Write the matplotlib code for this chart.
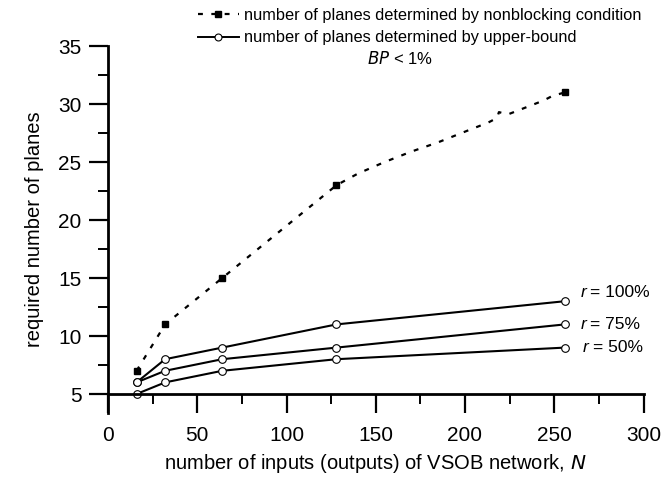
import numpy as np
import matplotlib
matplotlib.use('Agg')
import matplotlib.pyplot as plt
from matplotlib.lines import Line2D
from matplotlib.ticker import MultipleLocator

plt.rcParams['font.family'] = ['Liberation Sans', 'DejaVu Sans']

# network sizes N
N = [16, 32, 64, 128, 256]

# nonblocking condition: marked points and the dotted curve through them
nb_marks = [7, 11, 15, 23, 31]
nb_curve_N = [16, 24, 32, 48, 64, 96, 128, 140, 155, 170, 185, 203, 213, 218, 219, 224, 229, 234, 239, 244, 249, 256]
nb_curve = [7, 9, 11, 13, 15, 19, 23, 24.0, 25.0, 25.9, 26.7, 27.8, 28.4, 28.8, 29.3, 29.1, 29.4, 29.7, 30.0, 30.3, 30.7, 31]

# upper-bound, BP < 1%
ub_100 = [6, 8, 9, 11, 13]
ub_75 = [6, 7, 8, 9, 11]
ub_50 = [5, 6, 7, 8, 9]
r_labels = ['= 100%', '= 75%', '= 50%']

fig = plt.figure(figsize=(6.67, 4.8), dpi=100)
ax = fig.add_axes([108/667, 1-413/480, (643.5-108)/667, (413-46)/480])

ax.plot(nb_curve_N, nb_curve, color='black', lw=1.6, linestyle=(0, (2.2, 3.8)))
ax.plot(N, nb_marks, linestyle='none', marker='s', ms=5, color='black')

for ys in (ub_100, ub_75, ub_50):
    ax.plot(N, ys, color='black', lw=1.5, marker='o', ms=5.5,
            markerfacecolor='white', markeredgecolor='black', markeredgewidth=0.8)

# labels next to the end of each upper-bound curve
for ys, lab, off in zip((ub_100, ub_75, ub_50), r_labels, ((11, 6), (11, 0), (13, 0))):
    ax.annotate('r', (N[-1], ys[-1]), xytext=off, textcoords='offset points',
                fontsize=12.5, style='italic', va='center', ha='left')
    ax.annotate(lab, (N[-1], ys[-1]), xytext=(off[0] + 7, off[1]), textcoords='offset points',
                fontsize=12.5, va='center', ha='left')

ax.set_xlim(0, 300)
ax.set_ylim(5 - 19/11.6, 35)
ax.spines['top'].set_visible(False)
ax.spines['right'].set_visible(False)
ax.spines['bottom'].set_position(('data', 5))
ax.spines['bottom'].set_bounds(0, 300)
ax.spines['left'].set_linewidth(2)
ax.spines['bottom'].set_linewidth(2)

ax.set_xticks(np.arange(0, 301, 50))
ax.set_yticks(np.arange(5, 36, 5))
ax.xaxis.set_minor_locator(MultipleLocator(25))
ax.yaxis.set_minor_locator(MultipleLocator(2.5))
ax.tick_params(which='major', direction='out', length=14, width=1.6, labelsize=15)
ax.tick_params(which='minor', direction='out', length=7, width=1.4)
ax.tick_params(axis='y', which='major', pad=5)
ax.tick_params(axis='x', which='major', pad=9)

ax.set_xlabel('number of inputs (outputs) of VSOB network, $N$', fontsize=14.5, labelpad=5)
ax.set_ylabel('required number of planes', fontsize=14.5, labelpad=10)

handles = [
    Line2D([], [], color='black', lw=1.6, linestyle=(0, (2.2, 3.8)), marker='s', ms=5),
    Line2D([], [], color='black', lw=1.4, marker='o', ms=5,
           markerfacecolor='white', markeredgewidth=0.8),
]
fig.legend(handles, ['number of planes determined by nonblocking condition',
                     'number of planes determined by upper-bound'],
           loc='upper left', bbox_to_anchor=(198/667, 1 - 8/480), frameon=False,
           fontsize=11.8, handlelength=2.5, handletextpad=0.3, labelspacing=0.45,
           borderpad=0, borderaxespad=0)
fig.text(400/667, 1 - 58/480, '$BP$ < 1%', fontsize=12, ha='center', va='center')

fig.savefig('out.png', dpi=100)
